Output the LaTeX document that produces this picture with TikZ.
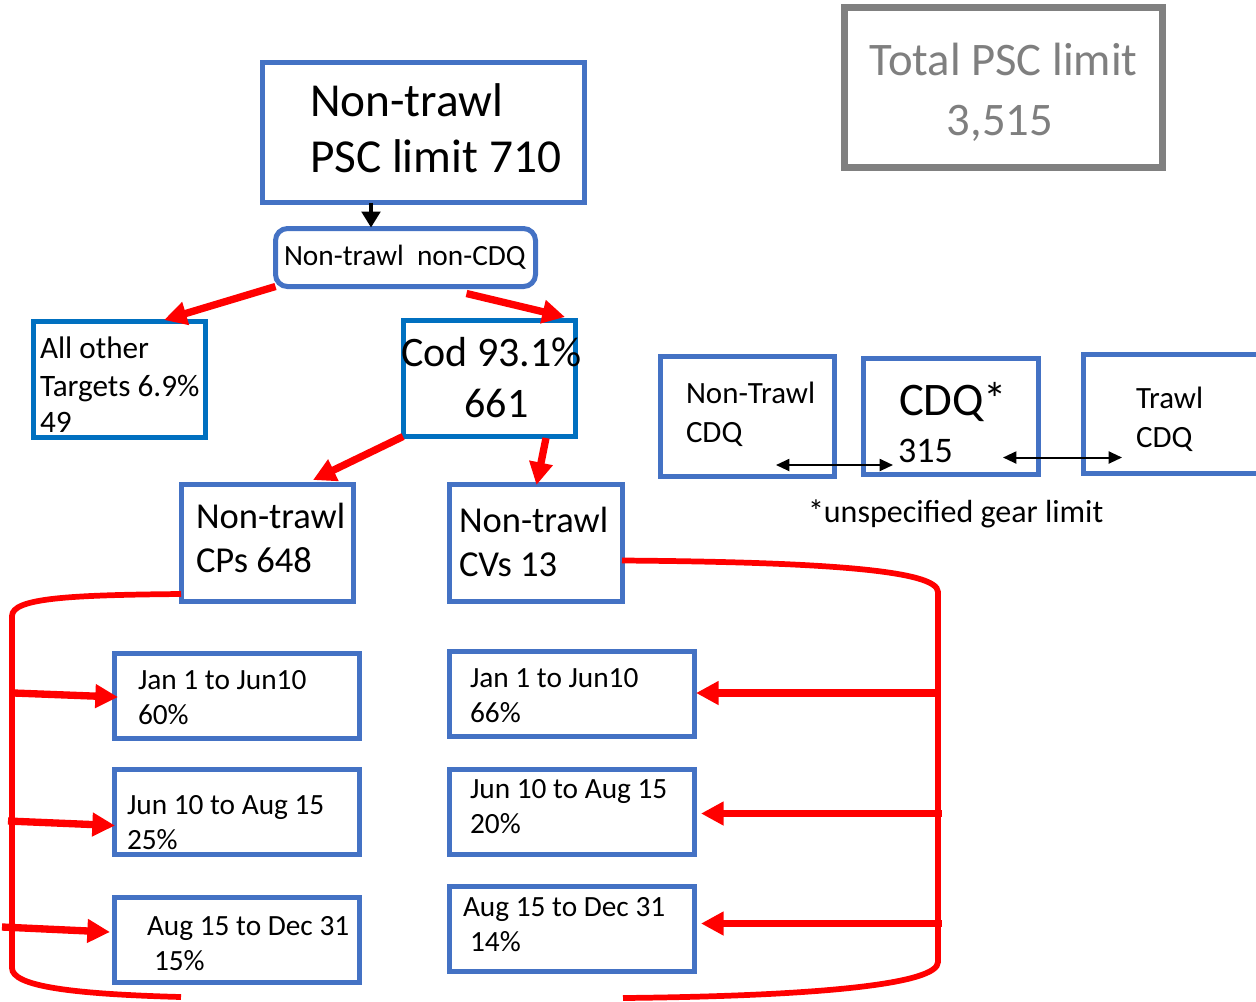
\documentclass[tikz,border=0pt]{standalone}
\usepackage{fontspec}
\setmainfont{Carlito}
\usetikzlibrary{arrows.meta,calc}
\newlength{\pxu}\setlength{\pxu}{0.75pt}
\definecolor{bblue}{RGB}{68,114,196}
\definecolor{dblue}{RGB}{0,112,192}
\definecolor{bgray}{RGB}{128,128,128}
\definecolor{tgray}{RGB}{127,127,127}
\definecolor{rred}{RGB}{255,0,0}
\tikzset{
 bx/.style args={#1/#2}{minimum width=#1\pxu, minimum height=#2\pxu},
 bluebox/.style={draw=bblue, line width=3.75pt, inner sep=0pt, outer sep=0pt},
 darkbox/.style={draw=dblue, line width=3.75pt, inner sep=0pt, outer sep=0pt},
 graybox/.style={draw=bgray, line width=5pt, inner sep=0pt, outer sep=0pt},
 tl/.style={anchor=base west, inner sep=0pt, outer sep=0pt},
 tc/.style={anchor=base, inner sep=0pt, outer sep=0pt},
 fs/.style={font=\fontsize{#1}{#1}\selectfont},
 redarrow/.style={draw=rred, line width=5.5pt, -{Triangle[length=17pt,width=17pt]}},
 bracket/.style={draw=rred, line width=4.3pt},
 blkarrow/.style={draw=black, line width=2.6pt, -{Triangle[length=12pt,width=14pt]}},
 dblarrow/.style={draw=black, line width=1.5pt, {Triangle[length=10pt,width=9pt]}-{Triangle[length=10pt,width=9pt]}},
}
\begin{document}
\begin{tikzpicture}[x=0.75pt,y=-0.75pt]
\useasboundingbox (0,0) rectangle (1256,1001);
\clip (0,0) rectangle (1256,1001);

% boxes
\node[bluebox, bx=322/140] (top) at (423.5,132.5) {};
\node[graybox, bx=318/160] (total) at (1003.5,87.5) {};
\node[bluebox, bx=260/58, rounded corners=9pt] (ncdq) at (405.5,257.5) {};
\node[darkbox, bx=172/116] (other) at (119,379) {};
\node[darkbox, bx=172/116] (cod) at (489,378) {};
\node[bluebox, bx=172/117] (cps) at (267,542.5) {};
\node[bluebox, bx=173/117] (cvs) at (535.5,542.5) {};
\node[bluebox, bx=245/85] (l1) at (236.5,695.5) {};
\node[bluebox, bx=245/85] (l2) at (236.5,811.5) {};
\node[bluebox, bx=245/85] (l3) at (236.5,939.5) {};
\node[bluebox, bx=245/85] (r1) at (571.5,693.5) {};
\node[bluebox, bx=245/85] (r2) at (571.5,811.5) {};
\node[bluebox, bx=245/85] (r3) at (571.5,928.5) {};
\node[bluebox, bx=174/120] (ntcdq) at (747,416) {};
\node[bluebox, bx=175/116] (cdq) at (950.5,416) {};
\node[bluebox, bx=175/119] (tcdq) at (1170.5,413.5) {};

% texts
\node[tl, fs=35.5] (top1) at (310,116) {Non-trawl};
\node[tl, fs=35.5] (top2) at (310,172) {PSC limit 710};
\node[tc, fs=35, text=tgray] (tot1) at (1003.5,75) {Total PSC limit};
\node[tc, fs=35, text=tgray] (tot2) at (1000,135) {3,515};
\node[tl, fs=22] (ncdqt) at (284,265) {Non-trawl\ \ non-CDQ};
\node[tl, fs=23.4] (oth1) at (40,358) {All other};
\node[tl, fs=23.4] (oth2) at (40,396) {Targets 6.9\%};
\node[tl, fs=23.4] (oth3) at (40,432) {49};
\node[tl, fs=31.5] (cod1) at (401,366) {Cod 93.1\%};
\node[tc, fs=31.5] (cod2) at (496.5,417) {661};
\node[tl, fs=27.4] (cps1) at (196,528) {Non-trawl};
\node[tl, fs=27.4] (cps2) at (196,572) {CPs 648};
\node[tl, fs=27.4] (cvs1) at (459,532) {Non-trawl};
\node[tl, fs=27.4] (cvs2) at (459,576) {CVs 13};
\node[tl, fs=22] (l1a) at (138,689) {Jan 1 to Jun10};
\node[tl, fs=22] (l1b) at (138,724) {60\%};
\node[tl, fs=22] (l2a) at (127,814) {Jun 10 to Aug 15};
\node[tl, fs=22] (l2b) at (127,849) {25\%};
\node[tl, fs=22] (l3a) at (147,935) {Aug 15 to Dec 31};
\node[tl, fs=22] (l3b) at (154,970) {15\%};
\node[tl, fs=22] (r1a) at (470,687) {Jan 1 to Jun10};
\node[tl, fs=22] (r1b) at (470,722) {66\%};
\node[tl, fs=22] (r2a) at (470,798) {Jun 10 to Aug 15};
\node[tl, fs=22] (r2b) at (470,833) {20\%};
\node[tl, fs=22] (r3a) at (463,916) {Aug 15 to Dec 31};
\node[tl, fs=22] (r3b) at (470,951) {14\%};
\node[tl, fs=23.2] (nt1) at (686,403) {Non-Trawl};
\node[tl, fs=23.2] (nt2) at (686,442) {CDQ};
\node[tl, fs=35] (cdq1) at (899,415) {CDQ*};
\node[tl, fs=27] (cdq2) at (898,462) {315};
\node[tl, fs=23.2] (tr1) at (1136,408) {Trawl};
\node[tl, fs=23.2] (tr2) at (1136,447) {CDQ};
\node[tl, fs=24] (foot) at (808,522) {*unspecified gear limit};

% black arrow
\draw[blkarrow] ($(top.south)+(-52.5,0)$) -- ($(ncdq.north)+(-34.5,-1)$);

% red arrows in the tree
\draw[redarrow] (ncdq.south west) -- ($(other.north)+(45,-1)$);
\draw[redarrow] ($(ncdq.south)+(61,7)$) -- ($(cod.north east)+(-10,-3)$);
\draw[redarrow] ($(cod.south west)+(0,0.5)$) -- ($(cps.north)+(46,-4)$);
\draw[redarrow] ($(cod.south)+(57,2)$) -- ($(cvs.north)+(1,1)$);

% left bracket
\coordinate (lbend) at (181,997);
\draw[bracket] ($(cps.west)+(0,51.5)$) .. controls (70,595) and (12,598) .. (12,616)
  -- (12,968) .. controls (12,986) and (70,994) .. (lbend);
\coordinate (la1) at (14,693);
\coordinate (la2) at (8,821);
\coordinate (la3) at (2,927);
\draw[redarrow] (la1) -- ($(l1.west)+(4,1.5)$);
\draw[redarrow] (la2) -- ($(l2.west)+(1,14)$);
\draw[redarrow] (la3) -- ($(l3.west)+(-4,-7.5)$);

% right bracket
\coordinate (rbend) at (623,998);
\draw[bracket] ($(cvs.east)+(0,18)$) .. controls (820,562) and (938,570) .. (938,592)
  -- (938,962) .. controls (938,984) and (820,996) .. (rbend);
\coordinate (ra1) at (938,693);
\coordinate (ra2) at (942,813.5);
\coordinate (ra3) at (942,923.5);
\draw[redarrow] (ra1) -- ($(r1.east)+(2,-0.5)$);
\draw[redarrow] (ra2) -- ($(r2.east)+(7,2)$);
\draw[redarrow] (ra3) -- ($(r3.east)+(7,-5)$);

% CDQ double arrows
\draw[dblarrow] ($(ntcdq.south east)+(-58,-11)$) -- ($(cdq.south west)+(30,-9)$);
\draw[dblarrow] ($(cdq.south east)+(-35,-16.5)$) -- ($(tcdq.south west)+(39,-15.5)$);
\end{tikzpicture}
\end{document}
